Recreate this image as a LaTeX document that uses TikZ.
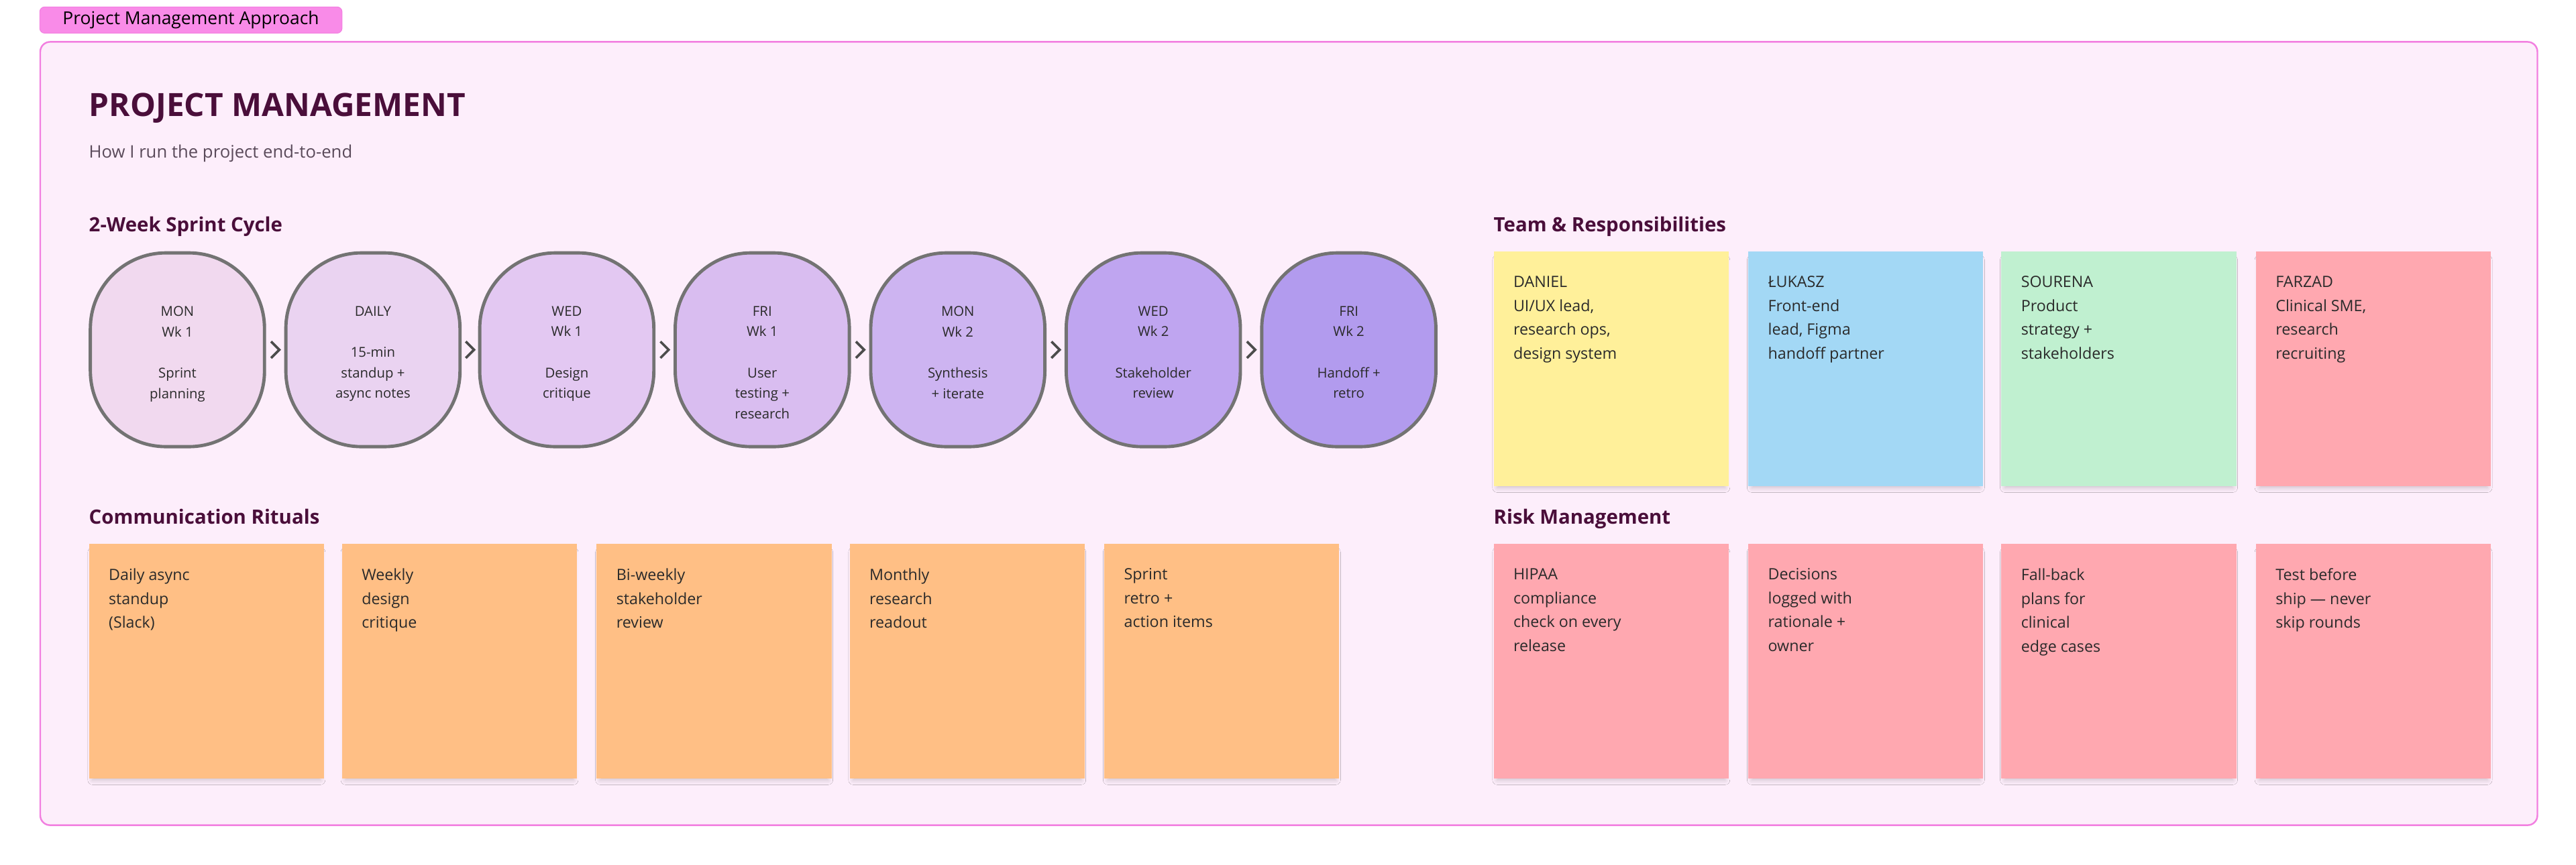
\documentclass[tikz,border=0pt]{standalone}
\usepackage{fontspec}
\setmainfont{Open Sans}
\usetikzlibrary{shadows.blur}
\definecolor{frame}{HTML}{F27FE0}
\definecolor{framebg}{HTML}{FDEEFB}
\definecolor{tab}{HTML}{F98BE8}
\definecolor{head}{HTML}{4A0E3A}
\definecolor{sub}{HTML}{5A4A5A}
\definecolor{ink}{HTML}{2A2A2A}
\definecolor{yel}{HTML}{FFF09A}
\definecolor{blu}{HTML}{A3D8F5}
\definecolor{grn}{HTML}{C0F0D0}
\definecolor{red}{HTML}{FFA8B0}
\definecolor{org}{HTML}{FFBF85}
\definecolor{c1}{HTML}{F1D9EF}
\definecolor{c2}{HTML}{EAD3F1}
\definecolor{c3}{HTML}{E3C8F2}
\definecolor{c4}{HTML}{D9BDF0}
\definecolor{c5}{HTML}{CDB4F1}
\definecolor{c6}{HTML}{BFA5F0}
\definecolor{c7}{HTML}{B29BEE}
\begin{document}
\begin{tikzpicture}[x=1pt,y=-1pt,
  sec/.style={anchor=base west,font=\fontsize{12}{14}\selectfont\bfseries,text=head,inner sep=0},
  sticky/.style={draw=none,minimum width=143pt,minimum height=143pt,anchor=north west,inner sep=0,
    blur shadow={shadow xshift=0pt,shadow yshift=-3pt,shadow scale=0.97,shadow blur radius=3pt,shadow opacity=20}},
  stext/.style={anchor=north west,align=left,font=\fontsize{9.5}{14.5}\selectfont,text=ink,inner sep=0},
  pill/.style={draw=black!55,line width=2pt,rounded corners=46pt,minimum width=106pt,minimum height=118pt,
    anchor=north west,inner sep=0},
  ptext/.style={align=center,font=\fontsize{8.3}{12.5}\selectfont,text=ink},
  arr/.style={draw=black!70,line width=1.5pt}
]
\useasboundingbox (0,0) rectangle (1568,526.75);
\fill[white] (0,0) rectangle (1568,526.75);
\node[draw=frame,fill=tab,rounded corners=3pt,minimum width=184pt,minimum height=16pt,anchor=north west,inner sep=0] (tab) at (24,4) {};
\node[font=\fontsize{10.8}{12}\selectfont,text=black] (tabt) at (tab.center) {Project Management Approach};
\node[draw=frame,line width=1pt,fill=framebg,rounded corners=6pt,minimum width=1520pt,minimum height=477pt,anchor=north west,inner sep=0] (main) at (24,25) {};
\node[anchor=base west,inner sep=0,font=\fontsize{19.5}{22}\selectfont\bfseries,text=head] (title) at (54,71) {PROJECT MANAGEMENT};
\node[anchor=base west,inner sep=0,font=\fontsize{10.5}{12}\selectfont,text=sub] (subt) at (54,96) {How I run the project end-to-end};
\node[sec] (s1) at (54,141) {2-Week Sprint Cycle};
\node[sec] (s2) at (909,141) {Team \& Responsibilities};
\node[sec] (s3) at (54,319) {Communication Rituals};
\node[sec] (s4) at (909,319) {Risk Management};
% pills
\foreach \i/\x/\c/\t in {1/54/c1/{MON\\Wk 1\\[12.5pt]Sprint\\planning},
  2/173/c2/{DAILY\\[12.5pt]15-min\\standup +\\async notes},
  3/291/c3/{WED\\Wk 1\\[12.5pt]Design\\critique},
  4/410/c4/{FRI\\Wk 1\\[12.5pt]User\\testing +\\research},
  5/529/c5/{MON\\Wk 2\\[12.5pt]Synthesis\\+ iterate},
  6/648/c6/{WED\\Wk 2\\[12.5pt]Stakeholder\\review},
  7/767/c7/{FRI\\Wk 2\\[12.5pt]Handoff +\\retro}}{
  \node[pill,fill=\c] (p\i) at (\x,153) {};
  \node[ptext,anchor=north] (pt\i) at ([yshift=-30pt]p\i.north) {\t};
}
\foreach \a/\b in {1/2,2/3,3/4,4/5,5/6,6/7}{
  \coordinate (m\a) at ($(p\a.east)!0.5!(p\b.west)$);
  \draw[arr] ([xshift=-2.5pt,yshift=-5pt]m\a) -- ([xshift=2.5pt]m\a) -- ([xshift=-2.5pt,yshift=5pt]m\a);
}
% team
\foreach \i/\x/\c/\t in {1/909/yel/{DANIEL\\UI/UX lead,\\research ops,\\design system},
  2/1064/blu/{ŁUKASZ\\Front-end\\lead, Figma\\handoff partner},
  3/1218/grn/{SOURENA\\Product\\strategy +\\stakeholders},
  4/1373/red/{FARZAD\\Clinical SME,\\research\\recruiting}}{
  \node[sticky,fill=\c] (t\i) at (\x,153) {};
  \node[stext] (tt\i) at ([xshift=12pt,yshift=-15pt]t\i.north west) {\t};
}
\foreach \i/\x/\t in {1/54/{Daily async\\standup\\(Slack)},2/208/{Weekly\\design\\critique},
  3/363/{Bi-weekly\\stakeholder\\review},4/517/{Monthly\\research\\readout},5/672/{Sprint\\retro +\\action items}}{
  \node[sticky,fill=org] (c\i) at (\x,331) {};
  \node[stext] (ct\i) at ([xshift=12pt,yshift=-15pt]c\i.north west) {\t};
}
\foreach \i/\x/\t in {1/909/{HIPAA\\compliance\\check on every\\release},2/1064/{Decisions\\logged with\\rationale +\\owner},
  3/1218/{Fall-back\\plans for\\clinical\\edge cases},4/1373/{Test before\\ship — never\\skip rounds}}{
  \node[sticky,fill=red] (r\i) at (\x,331) {};
  \node[stext] (rt\i) at ([xshift=12pt,yshift=-15pt]r\i.north west) {\t};
}
\end{tikzpicture}
\end{document}
